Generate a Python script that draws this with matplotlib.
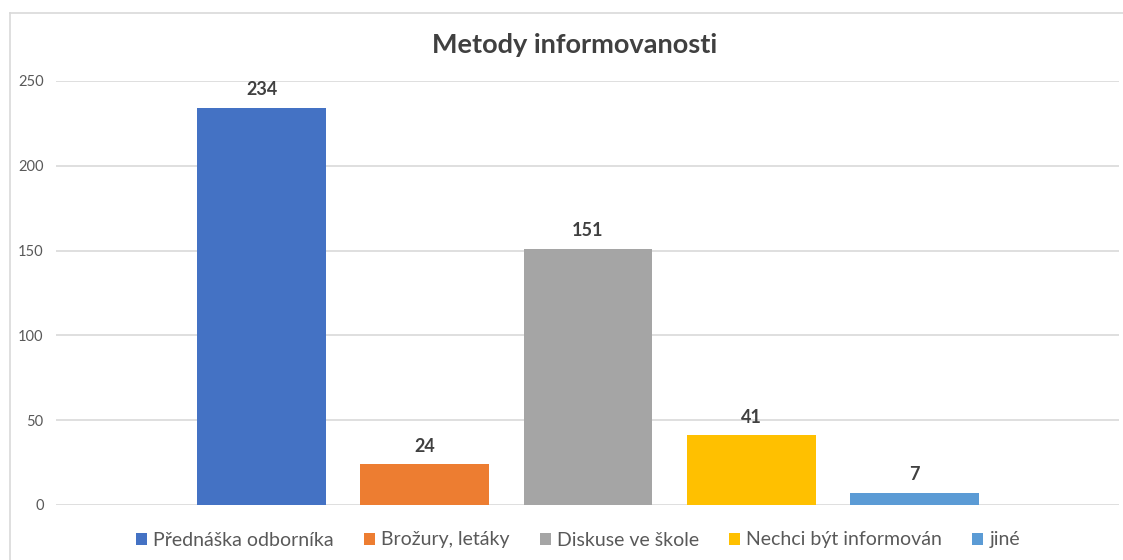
import matplotlib.pyplot as plt
from matplotlib.lines import Line2D
from matplotlib.patches import Patch

plt.rcParams['font.family'] = ['Lato', 'DejaVu Sans']

series = ["Přednáška odborníka", "Brožury, letáky", "Diskuse ve škole",
          "Nechci být informován", "jiné"]
values = [234, 24, 151, 41, 7]
colors = ["#4472C4", "#ED7D31", "#A5A5A5", "#FFC000", "#5B9BD5"]
yticks = [0, 50, 100, 150, 200, 250]

fig = plt.figure(figsize=(11.23, 5.60), dpi=100)
ax = fig.add_axes([56 / 1123, 1 - 505 / 560, (1119 - 56) / 1123, (505 - 81) / 560])

xs = list(range(len(values)))
bars = ax.bar(xs, values, width=0.79, color=colors, zorder=3)
for x, v in zip(xs, values):
    ax.annotate(str(v), (x, v), xytext=(0, 7), textcoords="offset points",
                ha="center", va="bottom", fontsize=13, fontweight="bold",
                color="#404040")

ax.set_xlim(-1.259, 5.253)
ax.set_ylim(0, 250)
ax.set_yticks(yticks)
ax.set_xticks([])
ax.yaxis.grid(True, color="#D9D9D9", linewidth=1.2, zorder=0)
for s in ax.spines.values():
    s.set_visible(False)
ax.tick_params(axis="y", length=0, pad=9, labelsize=10.5, labelcolor="#595959")

fig.text(575 / 1123, 1 - 45 / 560, "Metody informovanosti", ha="center",
         va="center", fontsize=19.5, fontweight="bold", color="#404040")

handles = [Patch(facecolor=c, edgecolor="none") for c in colors]
fig.legend(handles, series, loc="center", bbox_to_anchor=(578 / 1123, 1 - 540 / 560),
           ncol=5, frameon=False, fontsize=14, labelcolor="#595959",
           handlelength=0.58, handleheight=0.58, handletextpad=0.3, columnspacing=1.55)

# chart border (left and top visible)
fig.add_artist(Line2D([10 / 1123, 10 / 1123], [0, 1 - 13 / 560], color="#D9D9D9",
                      linewidth=1.2, transform=fig.transFigure))
fig.add_artist(Line2D([10 / 1123, 1], [1 - 13 / 560, 1 - 13 / 560], color="#D9D9D9",
                      linewidth=1.2, transform=fig.transFigure))

fig.savefig("out.png", dpi=100, facecolor="white")
